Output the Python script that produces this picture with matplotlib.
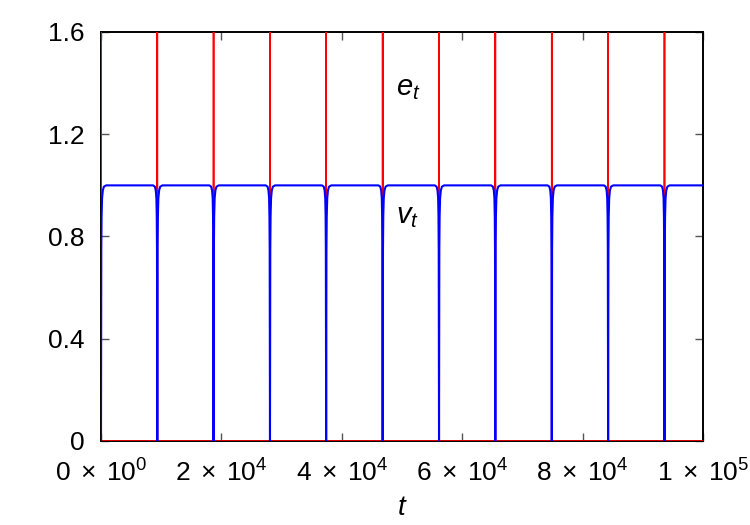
import numpy as np
import matplotlib
matplotlib.use('Agg')
import matplotlib.pyplot as plt
from matplotlib.ticker import FuncFormatter

plt.rcParams['font.family'] = ['Liberation Sans', 'DejaVu Sans']
plt.rcParams['mathtext.fontset'] = 'custom'
plt.rcParams['mathtext.rm'] = 'Liberation Sans'
plt.rcParams['mathtext.it'] = 'Liberation Sans:italic'

# spike times (t)
spike_t = [0, 9350, 18700, 28070, 37400, 46790, 56150, 65500, 74880, 84240, 93600]
# height of e_t at a spike (goes off the top of the plot)
spike_e = [5.0] * len(spike_t)

# v_t shape around one spike: offset in t and value
v_off = [-700, -400, -250, -150, -90, -50, 0, 50, 100, 180, 300, 480, 850]
v_val = [1.0, 0.995, 0.98, 0.95, 0.88, 0.75, 0.0, 0.75, 0.88, 0.95, 0.98, 0.995, 1.0]
v_plateau = 1.0

t_max = 1e5
x_ticks = [0, 2e4, 4e4, 6e4, 8e4, 1e5]
y_ticks = [0, 0.4, 0.8, 1.2, 1.6]

# build e_t
e_t, e_v = [0], [0]
for s, h in zip(spike_t, spike_e):
  e_t += [max(s - 1, 0), s, s + 1]
  e_v += [0, h, 0]
e_t.append(t_max)
e_v.append(0)

# build v_t
v_t, v_v = [], []
for s in spike_t:
  for o, v in zip(v_off, v_val):
    if 0 <= s + o <= t_max:
      v_t.append(s + o)
      v_v.append(v)
v_t.append(t_max)
v_v.append(v_plateau)

fig = plt.figure(figsize=(7.5, 5.25), dpi=100)
ax = fig.add_axes([101/750, 1 - 441/525, 602/750, 409/525])

ax.plot(e_t, e_v, color='#ff0000', lw=1.2, zorder=3)
ax.plot(v_t, v_v, color='#0000ff', lw=1.5, zorder=4)

ax.set_xlim(0, t_max)
ax.set_ylim(0, 1.6)
ax.set_xticks(x_ticks)
ax.set_yticks(y_ticks)

def sci(x, pos):
  if x == 0:
    return r'$0\;\times\;10^{0}$'
  e = int(np.floor(np.log10(x)))
  m = int(round(x / 10**e))
  return r'$%d\;\times\;10^{%d}$' % (m, e)

ax.xaxis.set_major_formatter(FuncFormatter(sci))
ax.yaxis.set_major_formatter(FuncFormatter(lambda y, p: '0' if y == 0 else '%.1f' % y))

ax.tick_params(direction='in', length=6, width=1, color='#555555',
               top=True, right=True, labelsize=19)
ax.tick_params(axis='y', pad=12)
ax.tick_params(axis='x', pad=13)
for sp in ax.spines.values():
  sp.set_linewidth(1.4)

ax.set_xlabel(r'$t$', fontsize=20, labelpad=6)

ax.text(49000, 1.38, r'$e_t$', fontsize=21, ha='left', va='center')
ax.text(49000, 0.88, r'$v_t$', fontsize=21, ha='left', va='center')

fig.savefig('out.png', dpi=100)
